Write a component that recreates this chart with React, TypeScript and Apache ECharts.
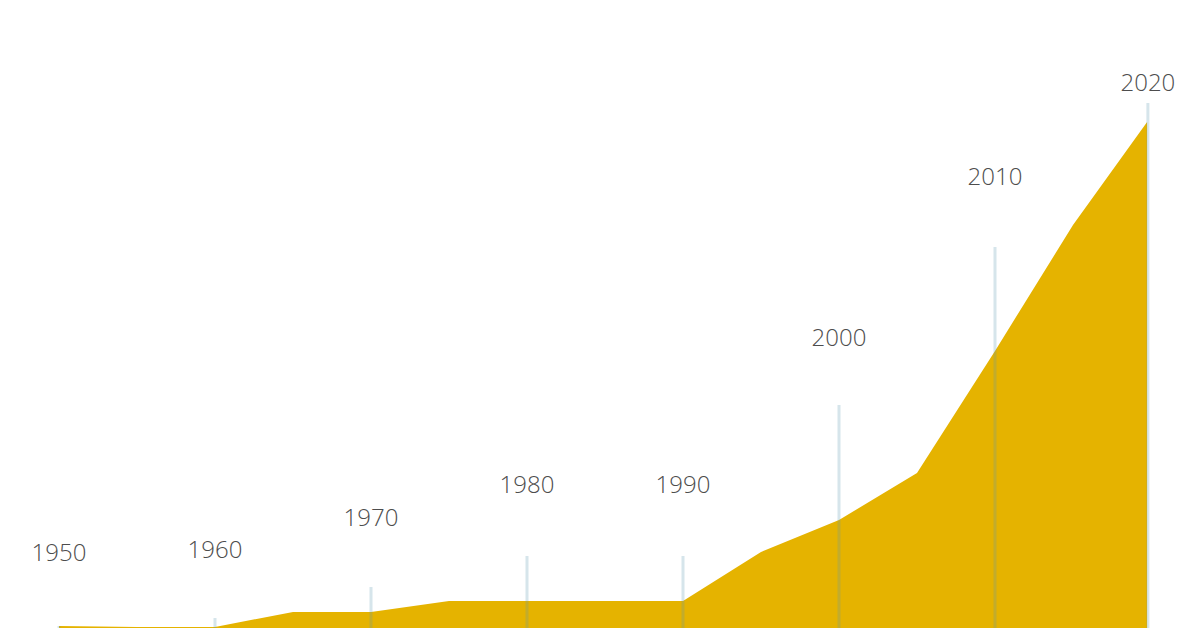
import React, { useEffect, useRef } from "react";
import * as echarts from "echarts";

const years = [1950, 1955, 1960, 1965, 1970, 1975, 1980, 1985, 1990, 1995, 2000, 2005, 2010, 2015, 2019.75];
const values = [2, 1, 1, 16, 16, 27, 27, 27, 27, 76, 108, 155, 277, 403, 506];

const markerLabels = ["1950", "1960", "1970", "1980", "1990", "2000", "2010", "2020"];
const markerYears = [1950, 1960, 1970, 1980, 1990, 2000, 2010, 2019.8];
const markerLineTops = [2, 10, 41, 72, 72, 223, 381, 525];
const markerLabelLevels = [76.5, 79.5, 111.5, 144.5, 144.5, 291.5, 452.5, 546.5];

export default function App() {
  const ref = useRef<HTMLDivElement>(null);
  useEffect(() => {
    if (!ref.current) return;
    const chart = echarts.init(ref.current, null, { renderer: "svg" });
    chart.setOption({
      animation: false,
      backgroundColor: "#ffffff",
      grid: { left: 59, right: 49, top: 0, bottom: 0 },
      xAxis: { type: "value", min: 1950, max: 2020, show: false },
      yAxis: { type: "value", min: 0, max: 628, show: false },
      series: [
        {
          type: "line",
          data: years.map((y, i) => [y, values[i]]),
          symbol: "none",
          lineStyle: { width: 0 },
          areaStyle: { color: "#E5B300", opacity: 1 },
          z: 1,
        },
        {
          type: "custom",
          z: 5,
          data: markerYears.map((y, i) => [y, markerLineTops[i], markerLabelLevels[i], i]),
          renderItem: (params: any, api: any) => {
            const yr = api.value(0);
            const idx = api.value(3);
            const base = api.coord([yr, 0]);
            const top = api.coord([yr, api.value(1)]);
            const lab = api.coord([yr, api.value(2)]);
            return {
              type: "group",
              children: [
                {
                  type: "line",
                  shape: { x1: base[0], y1: base[1], x2: top[0], y2: top[1] },
                  style: { stroke: "rgba(90,150,175,0.25)", lineWidth: 3 },
                },
                {
                  type: "text",
                  x: lab[0],
                  y: lab[1],
                  style: {
                    text: markerLabels[idx],
                    align: "center",
                    verticalAlign: "middle",
                    fill: "#4d4d4d",
                    fontSize: 24,
                    fontWeight: 300,
                    fontFamily: "'Open Sans', Lato, sans-serif",
                  },
                },
              ],
            };
          },
        },
      ],
    });
    return () => chart.dispose();
  }, []);
  return (
    <div
      ref={ref}
      style={{ position: "fixed", left: 0, top: 0, width: 1200, height: 628, background: "#fff" }}
    />
  );
}
